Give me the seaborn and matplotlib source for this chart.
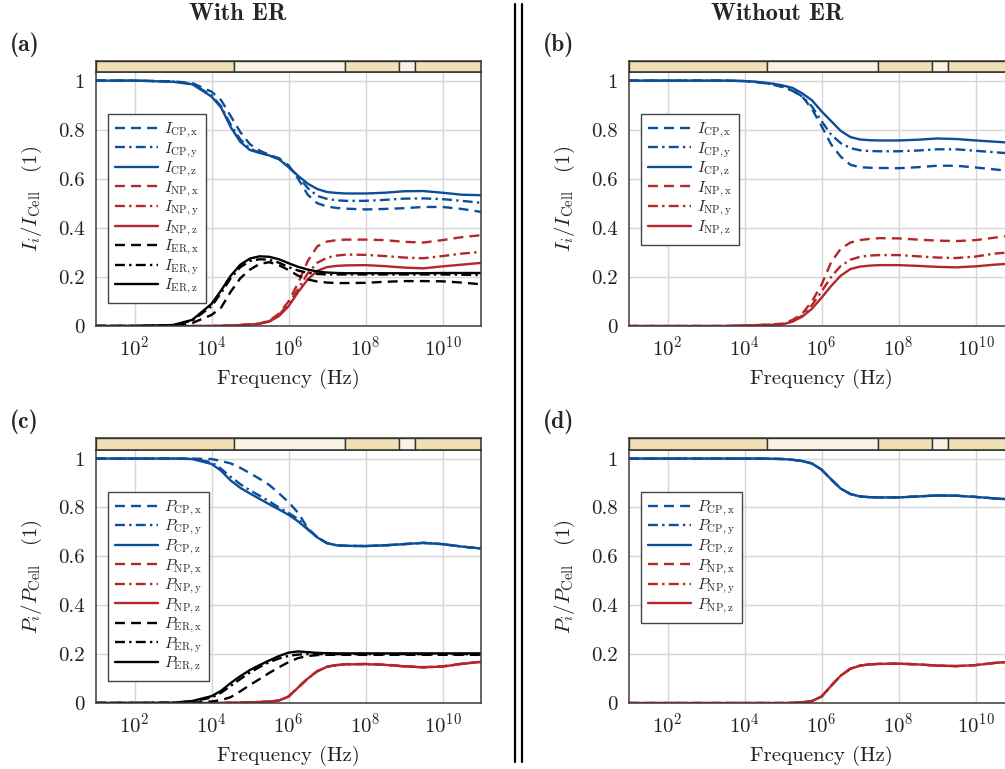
import numpy as np
import pandas as pd
import matplotlib
matplotlib.use("Agg")
import matplotlib.pyplot as plt
from matplotlib.lines import Line2D
from matplotlib.ticker import FixedLocator, FixedFormatter, NullLocator
import seaborn as sns

# ---------------- data ----------------
log_f = [1, 2, 3, 3.5, 4, 4.25, 4.5, 4.75, 5, 5.25, 5.5, 5.75, 6, 6.25, 6.5, 6.75,
         7, 7.25, 7.5, 8, 8.5, 9, 9.5, 10, 10.5, 11]

# (a) currents, with ER
a_cp_x = [1.0, 1.0, 0.997, 0.99, 0.955, 0.92, 0.855, 0.79, 0.74, 0.715, 0.697, 0.684, 0.655, 0.60, 0.535, 0.50,
          0.487, 0.481, 0.478, 0.475, 0.477, 0.48, 0.485, 0.485, 0.477, 0.465]
a_cp_y = [1.0, 1.0, 0.996, 0.987, 0.94, 0.895, 0.82, 0.76, 0.722, 0.707, 0.695, 0.68, 0.65, 0.61, 0.562, 0.53,
          0.518, 0.512, 0.51, 0.51, 0.514, 0.519, 0.52, 0.517, 0.51, 0.502]
a_cp_z = [1.0, 1.0, 0.995, 0.985, 0.935, 0.89, 0.81, 0.75, 0.717, 0.705, 0.695, 0.68, 0.647, 0.612, 0.58, 0.558,
          0.546, 0.542, 0.54, 0.54, 0.543, 0.549, 0.55, 0.543, 0.535, 0.533]
a_np_x = [0, 0, 0, 0, 0, 0.001, 0.002, 0.004, 0.006, 0.01, 0.022, 0.05, 0.10, 0.175, 0.265, 0.325,
          0.344, 0.35, 0.352, 0.352, 0.35, 0.343, 0.34, 0.35, 0.362, 0.37]
a_np_y = [0, 0, 0, 0, 0, 0.001, 0.002, 0.004, 0.006, 0.009, 0.02, 0.045, 0.09, 0.15, 0.215, 0.258,
          0.278, 0.287, 0.291, 0.29, 0.285, 0.279, 0.276, 0.285, 0.295, 0.302]
a_np_z = [0, 0, 0, 0, 0, 0.001, 0.002, 0.004, 0.006, 0.009, 0.018, 0.04, 0.08, 0.138, 0.19, 0.225,
          0.24, 0.245, 0.247, 0.248, 0.244, 0.238, 0.235, 0.243, 0.25, 0.257]
a_er_x = [0, 0, 0.002, 0.012, 0.045, 0.075, 0.14, 0.195, 0.23, 0.253, 0.26, 0.248, 0.228, 0.205, 0.19, 0.181,
          0.177, 0.175, 0.175, 0.176, 0.18, 0.183, 0.183, 0.182, 0.177, 0.17]
a_er_y = [0, 0, 0.003, 0.022, 0.08, 0.135, 0.195, 0.24, 0.265, 0.272, 0.27, 0.258, 0.24, 0.226, 0.217, 0.212,
          0.21, 0.21, 0.21, 0.21, 0.21, 0.21, 0.21, 0.21, 0.209, 0.208]
a_er_z = [0, 0, 0.004, 0.025, 0.09, 0.145, 0.205, 0.25, 0.275, 0.284, 0.282, 0.272, 0.256, 0.241, 0.23, 0.222,
          0.218, 0.216, 0.215, 0.215, 0.215, 0.215, 0.215, 0.216, 0.216, 0.216]

# (b) currents, without ER
b_cp_x = [1.0, 1.0, 1.0, 1.0, 0.998, 0.995, 0.99, 0.983, 0.973, 0.958, 0.935, 0.885, 0.815, 0.74, 0.69, 0.657,
          0.647, 0.645, 0.644, 0.643, 0.647, 0.653, 0.653, 0.646, 0.638, 0.63]
b_cp_y = [1.0, 1.0, 1.0, 1.0, 0.998, 0.995, 0.99, 0.984, 0.975, 0.96, 0.935, 0.895, 0.835, 0.78, 0.745, 0.725,
          0.716, 0.713, 0.712, 0.712, 0.715, 0.72, 0.72, 0.714, 0.708, 0.702]
b_cp_z = [1.0, 1.0, 1.0, 1.0, 0.998, 0.996, 0.992, 0.987, 0.98, 0.97, 0.948, 0.92, 0.875, 0.835, 0.795, 0.77,
          0.76, 0.757, 0.756, 0.756, 0.759, 0.764, 0.762, 0.756, 0.751, 0.746]
b_np_x = [0, 0, 0, 0, 0.002, 0.003, 0.005, 0.007, 0.01, 0.025, 0.05, 0.10, 0.168, 0.26, 0.315, 0.34,
          0.35, 0.355, 0.358, 0.357, 0.352, 0.348, 0.346, 0.35, 0.36, 0.37]
b_np_y = [0, 0, 0, 0, 0.002, 0.003, 0.004, 0.006, 0.008, 0.02, 0.042, 0.085, 0.14, 0.20, 0.245, 0.27,
          0.282, 0.287, 0.289, 0.289, 0.284, 0.279, 0.277, 0.283, 0.295, 0.302]
b_np_z = [0, 0, 0, 0, 0.002, 0.003, 0.004, 0.005, 0.007, 0.018, 0.038, 0.07, 0.115, 0.163, 0.205, 0.232,
          0.242, 0.246, 0.248, 0.248, 0.245, 0.241, 0.239, 0.243, 0.25, 0.255]

# (c) powers, with ER
c_cp_x = [1.0, 1.0, 1.0, 1.0, 0.998, 0.99, 0.98, 0.962, 0.94, 0.917, 0.892, 0.858, 0.822, 0.778, 0.715, 0.678,
          0.654, 0.645, 0.643, 0.642, 0.645, 0.65, 0.655, 0.65, 0.64, 0.632]
c_cp_y = [1.0, 1.0, 1.0, 0.999, 0.985, 0.958, 0.925, 0.895, 0.87, 0.848, 0.825, 0.80, 0.778, 0.752, 0.712, 0.677,
          0.654, 0.645, 0.643, 0.642, 0.645, 0.65, 0.655, 0.65, 0.64, 0.632]
c_cp_z = [1.0, 1.0, 1.0, 0.998, 0.978, 0.95, 0.91, 0.88, 0.857, 0.835, 0.813, 0.792, 0.77, 0.743, 0.71, 0.677,
          0.654, 0.645, 0.643, 0.642, 0.645, 0.65, 0.655, 0.65, 0.64, 0.632]
c_np_x = [0, 0, 0, 0, 0, 0, 0.001, 0.002, 0.003, 0.004, 0.006, 0.01, 0.027, 0.064, 0.101, 0.131,
          0.149, 0.156, 0.159, 0.16, 0.157, 0.151, 0.147, 0.15, 0.161, 0.169]
c_np_y = [0, 0, 0, 0, 0, 0, 0.001, 0.002, 0.003, 0.004, 0.006, 0.01, 0.026, 0.063, 0.10, 0.13,
          0.148, 0.155, 0.158, 0.159, 0.156, 0.15, 0.146, 0.149, 0.16, 0.168]
c_np_z = [0, 0, 0, 0, 0, 0, 0.001, 0.002, 0.003, 0.004, 0.006, 0.01, 0.026, 0.063, 0.10, 0.13,
          0.148, 0.155, 0.158, 0.159, 0.156, 0.15, 0.146, 0.149, 0.16, 0.168]
c_er_x = [0, 0, 0, 0.001, 0.006, 0.012, 0.024, 0.048, 0.074, 0.098, 0.123, 0.146, 0.167, 0.184, 0.192, 0.196,
          0.197, 0.197, 0.197, 0.197, 0.197, 0.197, 0.197, 0.197, 0.197, 0.197]
c_er_y = [0, 0, 0.001, 0.007, 0.022, 0.042, 0.07, 0.098, 0.125, 0.147, 0.167, 0.182, 0.193, 0.198, 0.20, 0.20,
          0.20, 0.20, 0.20, 0.20, 0.20, 0.20, 0.20, 0.20, 0.20, 0.20]
c_er_z = [0, 0, 0.001, 0.008, 0.028, 0.05, 0.082, 0.11, 0.135, 0.155, 0.174, 0.192, 0.206, 0.211, 0.208, 0.205,
          0.204, 0.203, 0.203, 0.203, 0.203, 0.203, 0.203, 0.203, 0.203, 0.203]

# (d) powers, without ER
d_cp_x = [1.0, 1.0, 1.0, 1.0, 1.0, 1.0, 1.0, 0.999, 0.998, 0.995, 0.99, 0.98, 0.955, 0.915, 0.877, 0.855,
          0.845, 0.842, 0.841, 0.841, 0.845, 0.849, 0.848, 0.843, 0.837, 0.832]
d_cp_y = list(d_cp_x)
d_cp_z = list(d_cp_x)
d_np_x = [0, 0, 0, 0, 0, 0, 0, 0, 0, 0.001, 0.003, 0.008, 0.026, 0.07, 0.112, 0.14,
          0.153, 0.158, 0.16, 0.161, 0.158, 0.153, 0.151, 0.155, 0.164, 0.17]
d_np_y = list(d_np_x)
d_np_z = list(d_np_x)

# frequency-band strip on top of each panel (log10 Hz edges)
band_edges = [1, 4.58, 7.46, 8.88, 9.28, 11]
band_shades = ["dark", "light", "dark", "light", "dark"]

x_ticks = [1e2, 1e4, 1e6, 1e8, 1e10]
y_ticks = [0, 0.2, 0.4, 0.6, 0.8, 1.0]
y_tick_labels = ["0", "0.2", "0.4", "0.6", "0.8", "1"]

components = ["x", "y", "z"]

# ---------------- style ----------------
sns.set_style("white")
plt.rcParams["font.family"] = ["cmr10", "DejaVu Serif"]
plt.rcParams["mathtext.fontset"] = "cm"
plt.rcParams["axes.formatter.use_mathtext"] = True
plt.rcParams["axes.unicode_minus"] = False

BLUE = "#0c4e98"
RED = "#b5262b"
BLACK = "#000000"
SHADE = {"dark": "#f1dfb6", "light": "#faf3e3"}
LS = {"x": (0, (4.2, 2.6)), "y": (0, (4.2, 1.8, 1.0, 1.8)), "z": "-"}
LW = 1.7

W, H = 1005, 769
fig = plt.figure(figsize=(W / 100, H / 100), dpi=100)


def fx(px):
    return px / W


def fy(py):
    return 1 - py / H


def make_panel(left_px, top_px, bottom_px, band_top_px, series, sym, label):
    width_px = 385
    ax = fig.add_axes([fx(left_px), fy(bottom_px), width_px / W, (bottom_px - top_px) / H])
    axb = fig.add_axes([fx(left_px), fy(top_px), width_px / W, (top_px - band_top_px) / H])

    x = np.power(10.0, log_f)
    for group, color, vals in series:
        for comp, v in zip(components, vals):
            sns.lineplot(x=x, y=v, ax=ax, color=color, linewidth=LW,
                         linestyle=LS[comp], label=rf"${sym}_{{\mathrm{{{group},{comp}}}}}$",
                         legend=False, sort=False)
    ax.set_xscale("log")
    ax.set_xlim(10 ** log_f[0], 10 ** log_f[-1])
    ax.set_ylim(0, 1.035)
    ax.xaxis.set_major_locator(FixedLocator(x_ticks))
    ax.xaxis.set_minor_locator(NullLocator())
    ax.yaxis.set_major_locator(FixedLocator(y_ticks))
    ax.yaxis.set_major_formatter(FixedFormatter(y_tick_labels))
    ax.grid(True, color="#d6d6d6", linewidth=1.0)
    ax.set_axisbelow(True)
    for s in ax.spines.values():
        s.set_color("#3a3a3a")
        s.set_linewidth(1.1)
    ax.tick_params(axis="both", which="both", length=0, labelsize=15, colors="#222222")
    ax.tick_params(axis="x", pad=7)
    ax.tick_params(axis="y", pad=8)
    ax.set_xlabel("Frequency (Hz)", fontsize=15, labelpad=6, color="#222222")
    ax.set_ylabel(rf"${sym}_i/{sym}_{{\mathrm{{Cell}}}}\quad(1)$", fontsize=15, labelpad=10, color="#222222")

    handles = ax.get_lines()
    leg = ax.legend(handles=handles, loc="upper left", bbox_to_anchor=(0.032, 0.835),
                    borderaxespad=0, fontsize=11.2, frameon=True, fancybox=False,
                    edgecolor="#444444", framealpha=1, handlelength=2.75,
                    labelspacing=0.02, borderpad=0.45, handletextpad=0.4)
    leg.get_frame().set_linewidth(1.0)

    # band strip
    for i, shade in enumerate(band_shades):
        axb.axvspan(10 ** band_edges[i], 10 ** band_edges[i + 1], color=SHADE[shade],
                    ec="#333333", lw=1.0)
    axb.set_xscale("log")
    axb.set_xlim(10 ** band_edges[0], 10 ** band_edges[-1])
    axb.set_ylim(0, 1)
    axb.set_xticks([])
    axb.set_yticks([])
    axb.xaxis.set_minor_locator(NullLocator())
    for s in axb.spines.values():
        s.set_color("#333333")
        s.set_linewidth(1.1)

    fig.text(fx(left_px - 86), fy(band_top_px - 16), label, fontsize=17,
             family=["cmb10", "DejaVu Serif"], ha="left", va="center")
    return ax


series_a = [("CP", BLUE, [a_cp_x, a_cp_y, a_cp_z]),
            ("NP", RED, [a_np_x, a_np_y, a_np_z]),
            ("ER", BLACK, [a_er_x, a_er_y, a_er_z])]
series_b = [("CP", BLUE, [b_cp_x, b_cp_y, b_cp_z]),
            ("NP", RED, [b_np_x, b_np_y, b_np_z])]
series_c = [("CP", BLUE, [c_cp_x, c_cp_y, c_cp_z]),
            ("NP", RED, [c_np_x, c_np_y, c_np_z]),
            ("ER", BLACK, [c_er_x, c_er_y, c_er_z])]
series_d = [("CP", BLUE, [d_cp_x, d_cp_y, d_cp_z]),
            ("NP", RED, [d_np_x, d_np_y, d_np_z])]

make_panel(96, 72, 326, 61, series_a, "I", "(a)")
make_panel(629, 72, 326, 61, series_b, "I", "(b)")
make_panel(96, 450, 703, 438, series_c, "P", "(c)")
make_panel(629, 450, 703, 438, series_d, "P", "(d)")

fig.text(fx(238), fy(14), "With ER", fontsize=17.5, family=["cmb10", "DejaVu Serif"],
         ha="center", va="center")
fig.text(fx(777), fy(14), "Without ER", fontsize=17.5, family=["cmb10", "DejaVu Serif"],
         ha="center", va="center")

for xp in (515, 522):
    fig.add_artist(Line2D([fx(xp), fx(xp)], [fy(4), fy(762)], color="black", lw=1.6,
                          transform=fig.transFigure))

fig.savefig("out.png", dpi=100)
